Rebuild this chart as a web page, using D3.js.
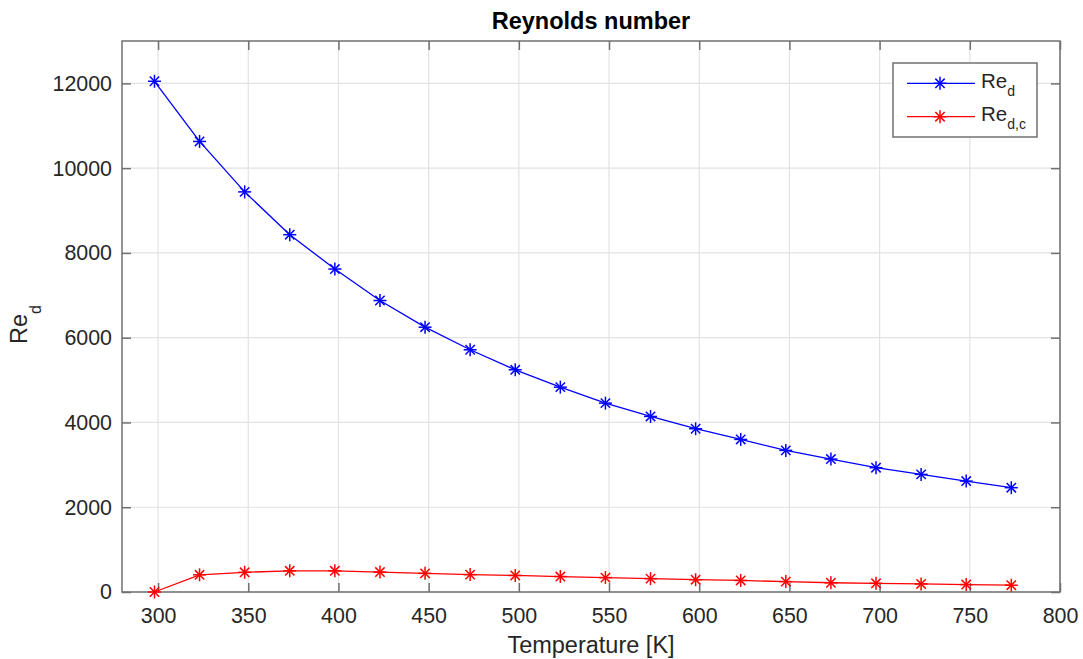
<!DOCTYPE html>
<html>
<head>
<meta charset="utf-8">
<script src="https://cdn.jsdelivr.net/npm/d3@7"></script>
<style>
  html, body { margin: 0; padding: 0; background: #fff; }
  svg { display: block; font-family: "Liberation Sans", Arial, sans-serif; }
</style>
</head>
<body>
<svg id="chart" width="1083" height="659"></svg>
<script>
// Data
const temperature = [298, 323, 348, 373, 398, 423, 448, 473, 498, 523, 548, 573, 598, 623, 648, 673, 698, 723, 748, 773];
const reD = [12050, 10630, 9440, 8430, 7620, 6877, 6248, 5715, 5243, 4833, 4456, 4142, 3852, 3600, 3341, 3136, 2933, 2775, 2617, 2461];
const reDC = [0, 405, 465, 500, 500, 470, 440, 410, 390, 365, 340, 315, 290, 272, 245, 218, 205, 190, 175, 160];
const xTicks = [300, 350, 400, 450, 500, 550, 600, 650, 700, 750, 800];
const yTicks = [0, 2000, 4000, 6000, 8000, 10000, 12000];
const seriesNames = ["d", "d,c"];
const seriesColors = ["#0000ff", "#ff0000"];

const svg = d3.select("#chart");
const L = 122, R = 1060, T = 41, B = 592;
const x = d3.scaleLinear().domain([280, 800]).range([L, R]);
const y = d3.scaleLinear().domain([0, 13000]).range([B, T]);
const axisColor = "#707070";
const textColor = "#262626";
const fontSize = 21.4;

// grid
const g = svg.append("g");
g.selectAll(".vg").data(xTicks).join("line")
  .attr("x1", d => x(d)).attr("x2", d => x(d)).attr("y1", T).attr("y2", B)
  .attr("stroke", "#e2e2e2").attr("stroke-width", 1.2);
g.selectAll(".hg").data(yTicks).join("line")
  .attr("x1", L).attr("x2", R).attr("y1", d => y(d)).attr("y2", d => y(d))
  .attr("stroke", "#e2e2e2").attr("stroke-width", 1.2);

// axes via d3
const fmt = d3.format("d");
const xAxis = d3.axisBottom(x).tickValues(xTicks).tickFormat(fmt).tickSizeInner(-9).tickSizeOuter(0).tickPadding(15.5);
const yAxis = d3.axisLeft(y).tickValues(yTicks).tickFormat(fmt).tickSizeInner(-9).tickSizeOuter(0).tickPadding(10);
const xTop = d3.axisTop(x).tickValues(xTicks).tickSizeInner(-9).tickSizeOuter(0).tickFormat("");
const yRight = d3.axisRight(y).tickValues(yTicks).tickSizeInner(-9).tickSizeOuter(0).tickFormat("");

function style(sel) {
  sel.select(".domain").remove();
  sel.selectAll(".tick line").attr("stroke", axisColor).attr("stroke-width", 1.5);
  sel.selectAll(".tick text").attr("fill", textColor).attr("font-size", fontSize)
    .attr("font-family", "Liberation Sans, Arial, sans-serif");
}
svg.append("g").attr("transform", `translate(0,${B})`).call(xAxis).call(style);
svg.append("g").attr("transform", `translate(${L},0)`).call(yAxis).call(style);
svg.append("g").attr("transform", `translate(0,${T})`).call(xTop).call(style);
svg.append("g").attr("transform", `translate(${R},0)`).call(yRight).call(style);

// box
svg.append("rect").attr("x", L).attr("y", T).attr("width", R - L).attr("height", B - T)
  .attr("fill", "none").attr("stroke", axisColor).attr("stroke-width", 1.5);

// lines
const seriesData = [reD, reDC];
const line = d3.line().x(d => x(d[0])).y(d => y(d[1]));
function star(sel, cx, cy, color, r) {
  const gg = sel.append("g").attr("transform", `translate(${cx},${cy})`)
    .attr("stroke", color).attr("stroke-width", 1.5).attr("fill", "none");
  const d = r * 0.72;
  gg.append("line").attr("x1", -r).attr("x2", r).attr("y1", 0).attr("y2", 0);
  gg.append("line").attr("x1", 0).attr("x2", 0).attr("y1", -r).attr("y2", r);
  gg.append("line").attr("x1", -d).attr("x2", d).attr("y1", -d).attr("y2", d);
  gg.append("line").attr("x1", -d).attr("x2", d).attr("y1", d).attr("y2", -d);
}
seriesData.forEach((vals, i) => {
  const pts = temperature.map((t, k) => [t, vals[k]]);
  svg.append("path").attr("d", line(pts)).attr("fill", "none")
    .attr("stroke", seriesColors[i]).attr("stroke-width", 1.3);
  pts.forEach(p => star(svg, x(p[0]), y(p[1]), seriesColors[i], 6.5));
});

// title
svg.append("text").attr("x", (L + R) / 2).attr("y", 29).attr("text-anchor", "middle")
  .attr("font-size", 23.5).attr("font-weight", "bold").attr("fill", "#000").text("Reynolds number");

// x label
svg.append("text").attr("x", (L + R) / 2).attr("y", 653).attr("text-anchor", "middle")
  .attr("font-size", 23.5).attr("fill", textColor).text("Temperature [K]");

// y label
const yl = svg.append("text").attr("transform", `translate(27,${(T + B) / 2 + 8}) rotate(-90)`)
  .attr("text-anchor", "middle").attr("font-size", 23.5).attr("fill", textColor);
yl.append("tspan").text("Re");
yl.append("tspan").attr("dy", 14).attr("font-size", 16).text("d");

// legend
const lg = svg.append("g");
lg.append("rect").attr("x", 893).attr("y", 63).attr("width", 144).attr("height", 74)
  .attr("fill", "#fff").attr("stroke", axisColor).attr("stroke-width", 1.5);
seriesNames.forEach((n, i) => {
  const cy = 83.3 + i * 33.4;
  lg.append("line").attr("x1", 907).attr("x2", 975).attr("y1", cy).attr("y2", cy)
    .attr("stroke", seriesColors[i]).attr("stroke-width", 1.3);
  star(lg, 940, cy, seriesColors[i], 6.5);
  const t = lg.append("text").attr("x", 981).attr("y", cy + 4.3).attr("font-size", 20.5).attr("fill", textColor);
  t.append("tspan").text("Re");
  t.append("tspan").attr("dy", 8).attr("font-size", 14).text(n);
});
</script>
</body>
</html>
